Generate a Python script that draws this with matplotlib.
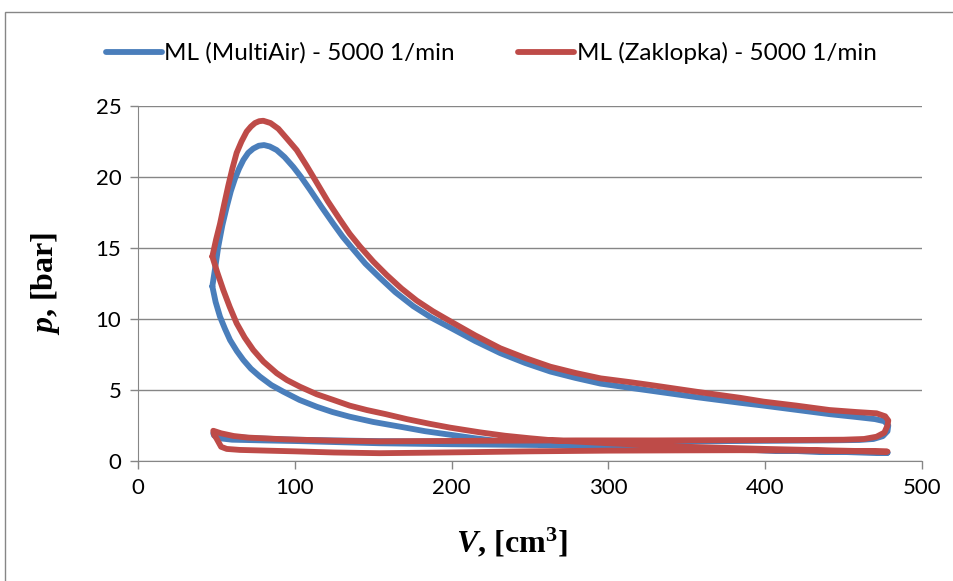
import matplotlib.pyplot as plt
from matplotlib.patches import Rectangle

# p-V loops: V in cm3, p in bar
# order: combustion rise, expansion, blowdown, exhaust, intake, compression
multiair_v = [47.4, 49.5, 51.2, 53.8, 56.6, 59.2, 61.9, 64.5, 67.2, 70.3, 73.5, 77, 80.4,
              84, 88.4, 93.5, 99.1, 104, 109.7, 117, 124.6, 130.5, 137.3, 145, 154.3, 164, 175.6,
              187, 199, 215, 231, 247, 263, 279, 295, 314, 327, 356, 384, 399, 420, 441, 458, 470, 476,
              478.5, 478, 475, 469, 460,
              440, 400, 350, 300, 250, 200, 154, 125, 100, 75, 60, 50, 48,
              48.5, 52, 60, 80, 103, 154, 200, 260, 300, 350, 400, 440, 478,
              440, 400, 350, 320, 290, 260, 230, 215, 199, 183, 167, 150, 135, 124, 114, 103,
              92.7, 85, 77.8, 72, 67.2, 63, 58.7, 55.5, 52.3, 49.5, 47.4]
multiair_p = [12.3, 13.8, 15.1, 16.6, 17.9, 19.0, 19.9, 20.6, 21.2, 21.7, 22.0, 22.2, 22.25,
              22.15, 21.9, 21.4, 20.7, 20.0, 19.1, 17.9, 16.7, 15.8, 14.9, 13.9, 12.9, 11.9, 10.9,
              10.1, 9.4, 8.45, 7.6, 6.9, 6.3, 5.85, 5.45, 5.15, 4.95, 4.5, 4.1, 3.9, 3.6, 3.3, 3.1, 2.95, 2.8,
              2.5, 2.1, 1.75, 1.55, 1.48,
              1.45, 1.42, 1.38, 1.35, 1.35, 1.37, 1.4, 1.45, 1.5, 1.6, 1.7, 1.85, 1.95,
              1.8, 1.6, 1.5, 1.45, 1.4, 1.25, 1.18, 1.12, 1.05, 0.9, 0.75, 0.65, 0.58,
              0.65, 0.75, 0.9, 0.98, 1.05, 1.15, 1.4, 1.6, 1.85, 2.1, 2.42, 2.75, 3.12, 3.45, 3.82, 4.3,
              4.88, 5.35, 5.94, 6.5, 7.11, 7.75, 8.52, 9.3, 10.16, 11.2, 12.3]

zaklopka_v = [47.4, 49.8, 52.3, 55, 57.6, 60.2, 62.9, 66, 69.3, 72, 74.6, 77.3, 79.9,
              84.5, 89.5, 95, 101.2, 107.5, 114, 121, 128.8, 135, 141.6, 150, 158.6, 168, 177.7,
              188, 199, 215, 231, 247, 263, 279, 295, 314, 327, 356, 384, 399, 420, 441, 458, 471, 476.5,
              478.5, 478, 476, 471, 463, 450,
              420, 380, 330, 280, 230, 180, 154, 125, 93, 70, 61, 53, 48,
              48.5, 50, 51.5, 53, 56.6, 65, 82, 100, 125, 154, 180, 210, 250, 300, 350, 384, 420, 450, 478,
              440, 400, 350, 300, 265, 250, 234, 218, 199, 186, 171.4, 158, 145.9, 135, 124.6, 114,
              103.3, 95, 88.5, 80, 73.5, 68, 62.9, 58.5, 54.4, 50.5, 47.4]
zaklopka_p = [14.4, 15.6, 16.7, 18.1, 19.4, 20.6, 21.7, 22.5, 23.2, 23.55, 23.8, 23.93, 23.96,
              23.8, 23.4, 22.7, 21.9, 20.8, 19.6, 18.3, 17.0, 16.0, 15.1, 14.05, 13.1, 12.15, 11.3,
              10.55, 9.85, 8.85, 7.94, 7.25, 6.64, 6.2, 5.82, 5.55, 5.35, 4.88, 4.45, 4.18, 3.9, 3.59, 3.45, 3.36, 3.15,
              2.85, 2.5, 2.0, 1.71, 1.55, 1.5,
              1.48, 1.47, 1.45, 1.45, 1.43, 1.4, 1.38, 1.43, 1.53, 1.65, 1.76, 1.95, 2.13,
              1.85, 1.6, 1.3, 1.0, 0.85, 0.78, 0.73, 0.68, 0.6, 0.55, 0.58, 0.62, 0.68, 0.73, 0.75, 0.76, 0.74, 0.7, 0.66,
              0.75, 0.85, 1.0, 1.25, 1.45, 1.6, 1.78, 2.02, 2.35, 2.62, 2.95, 3.3, 3.59, 3.9, 4.3, 4.7,
              5.23, 5.7, 6.18, 7.0, 7.82, 8.7, 9.7, 10.85, 12.04, 13.3, 14.4]

labels = ['ML (MultiAir) - 5000 1/min', 'ML (Zaklopka) - 5000 1/min']
x_ticks = [0, 100, 200, 300, 400, 500]
y_ticks = [0, 5, 10, 15, 20, 25]

plt.rcParams['font.family'] = ['Lato', 'DejaVu Sans']
plt.rcParams['mathtext.fontset'] = 'custom'
plt.rcParams['mathtext.it'] = 'Liberation Serif:italic:bold'
plt.rcParams['mathtext.rm'] = 'Liberation Serif:bold'
plt.rcParams['mathtext.bf'] = 'Liberation Serif:bold'

grey = '#868686'
fig = plt.figure(figsize=(9.54, 5.81), dpi=100)
ax = fig.add_axes([138 / 954, 1 - 461 / 581, 784 / 954, 355 / 581])

ax.plot(multiair_v, multiair_p, color='#4A7EBB', lw=4.2, solid_joinstyle='round',
        solid_capstyle='round', label=labels[0])
ax.plot(zaklopka_v, zaklopka_p, color='#BE4B48', lw=4.2, solid_joinstyle='round',
        solid_capstyle='round', label=labels[1])

ax.set_xlim(0, 500)
ax.set_ylim(0, 25)
ax.set_xticks(x_ticks)
ax.set_yticks(y_ticks)
ax.tick_params(labelsize=16, color=grey, length=6, width=1, pad=6)
ax.grid(axis='y', color=grey, lw=1)
ax.set_axisbelow(True)
for s in ['top', 'right']:
    ax.spines[s].set_visible(False)
for s in ['left', 'bottom']:
    ax.spines[s].set_color(grey)

fig.text(512 / 954, 1 - 543 / 581, r'$V$, [cm$^{3}$]', ha='center', va='center',
         fontsize=23, family='Liberation Serif', weight='bold')
fig.text(45 / 954, 1 - 283 / 581, r'$p$, [bar]', ha='center', va='center', rotation=90,
         fontsize=23, family='Liberation Serif', weight='bold')

fig.legend(loc='center', bbox_to_anchor=(0.515, 1 - 53 / 581), ncol=2, frameon=False,
           fontsize=17.5, handlelength=2.3, handletextpad=0.1, columnspacing=2.6)

fig.patches.append(Rectangle((5 / 954, -0.1), 1.2, 1.1 - 12 / 581, transform=fig.transFigure,
                             fill=False, edgecolor=grey, lw=1))

fig.savefig('out.png', dpi=100)
